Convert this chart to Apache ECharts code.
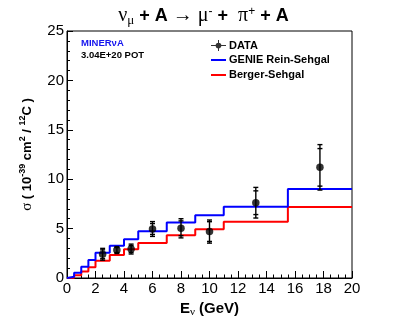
<!DOCTYPE html>
<html>
<head>
<meta charset="utf-8">
<script src="https://cdn.jsdelivr.net/npm/echarts@6/dist/echarts.min.js"></script>
<style>html,body{margin:0;padding:0;background:#fff;}#c{width:407px;height:328px;}</style>
</head>
<body>
<div id="c"></div>
<script>
// ---- data ----
const binEdges = [0, 0.5, 1, 1.5, 2, 3, 4, 5, 7, 9, 11, 15.5, 20];
const genieReinSehgal = [0.13, 0.54, 1.15, 1.82, 2.56, 3.27, 3.91, 4.72, 5.63, 6.34, 7.22, 9.0];
const bergerSehgal = [0.03, 0.28, 0.65, 1.08, 1.75, 2.33, 2.90, 3.55, 4.32, 4.93, 5.70, 7.19];
const dataEnergy = [2.5, 3.5, 4.5, 6, 8, 10, 13.25, 17.75];
const dataXsec = [2.40, 2.83, 2.93, 4.96, 5.03, 4.70, 7.62, 11.2];
const statErr = [0.45, 0.25, 0.35, 0.55, 0.75, 1.0, 1.2, 1.9];
const totalErr = [0.60, 0.35, 0.50, 0.75, 0.97, 1.17, 1.55, 2.3];
const xTickLabels = ['0','2','4','6','8','10','12','14','16','18','20'];
const yTickLabels = ['0','5','10','15','20','25'];

function histPoints(vals) {
  const pts = [[binEdges[0], 0]];
  for (let i = 0; i < vals.length; i++) pts.push([binEdges[i], vals[i]]);
  pts.push([binEdges[binEdges.length - 1], vals[vals.length - 1]]);
  return pts;
}

const chart = echarts.init(document.getElementById('c'), null, {renderer: 'canvas'});
const F = '"Liberation Sans", Arial, Helvetica, sans-serif';
const G = '"Liberation Serif", "Times New Roman", serif';
const lineIcon = 'path://M0,0H0.01V0.01H0Z M0,5H15V7H0Z M0,12H0.01V12.01H0Z';

const dataDots = dataEnergy.map((e, i) => [e, dataXsec[i]]);
const errItems = dataEnergy.map((e, i) => [e, dataXsec[i], statErr[i], totalErr[i]]);

chart.setOption({
  animation: false,
  backgroundColor: '#fff',
  title: {
    left: 'center', top: 0,
    text: '{g|ν}{sub|μ}{b| + A }{g|→}{g| μ}{sup|-}{b| + }{g| π}{sup|+}{b| + A}',
    textStyle: {
      rich: {
        g: {fontFamily: G, fontSize: 20, fontWeight: 'normal', color: '#000'},
        b: {fontFamily: F, fontSize: 18, fontWeight: 'bold', color: '#000'},
        sub: {fontFamily: G, fontSize: 13, fontWeight: 'normal', color: '#000', padding: [9, 0, 0, 0]},
        sup: {fontFamily: F, fontSize: 12, fontWeight: 'normal', color: '#000', padding: [0, 0, 9, 0]}
      }
    }
  },
  grid: {left: 67, right: 55, top: 31, bottom: 50, show: true, borderColor: '#000', borderWidth: 1, backgroundColor: 'transparent'},
  legend: {
    orient: 'vertical', left: 206, top: 35, itemWidth: 15, itemHeight: 12, itemGap: 3,
    selectedMode: false,
    textStyle: {fontFamily: F, fontSize: 11, fontWeight: 'bold', color: '#000', padding: [0, 0, 0, -2]},
    data: [
      {name: 'DATA', icon: 'path://M0,7.3H18V8.7H0Z M8.4,1.5H9.6V14.5H8.4Z M9,4.6A3.4,3.4 0 1 1 8.99,4.6Z', itemStyle: {color: '#000'}},
      {name: 'GENIE Rein-Sehgal', icon: lineIcon, itemStyle: {color: '#0000ff'}},
      {name: 'Berger-Sehgal', icon: lineIcon, itemStyle: {color: '#ff0000'}}
    ]
  },
  graphic: [
    {type: 'text', left: 81, top: 38, style: {text: 'MINERνA', fill: '#1515ee', font: 'bold 9.5px ' + F}},
    {type: 'text', left: 81, top: 50, style: {text: '3.04E+20 POT', fill: '#000', font: 'bold 9.5px ' + F}}
  ],
  xAxis: {
    type: 'value', min: 0, max: 20, interval: 2,
    name: '{b|E}{sub|ν}{b| (GeV)}', nameLocation: 'middle', nameGap: 20,
    nameTextStyle: {
      rich: {
        b: {fontFamily: F, fontSize: 15, fontWeight: 'bold', color: '#000'},
        sub: {fontFamily: G, fontSize: 11, color: '#000', padding: [8, 0, 0, 0]}
      }
    },
    axisLine: {show: true, onZero: false, lineStyle: {color: '#000', width: 1}},
    axisTick: {show: true, inside: true, length: 7, lineStyle: {color: '#000'}},
    minorTick: {show: true, splitNumber: 4, length: 3.5, lineStyle: {color: '#000'}},
    splitLine: {show: false},
    axisLabel: {
      margin: 3, color: '#000', fontFamily: F, fontSize: 15,
      formatter: v => { const s = String(v); return xTickLabels.includes(s) ? s : ''; }
    }
  },
  yAxis: {
    type: 'value', min: 0, max: 25, interval: 5,
    name: '{g|σ}{b| ( 10}{sup|-39}{b| cm}{sup|2}{b| / }{sup|12}{b|C )}',
    nameLocation: 'middle', nameGap: 31, nameRotate: 90,
    nameTextStyle: {
      rich: {
        g: {fontFamily: G, fontSize: 15, color: '#000'},
        b: {fontFamily: F, fontSize: 13, fontWeight: 'bold', color: '#000'},
        sup: {fontFamily: F, fontSize: 9, fontWeight: 'bold', color: '#000', padding: [0, 0, 9, 0]}
      }
    },
    axisLine: {show: true, onZero: false, lineStyle: {color: '#000', width: 1}},
    axisTick: {show: true, inside: true, length: 6, lineStyle: {color: '#000'}},
    minorTick: {show: true, splitNumber: 5, length: 3, lineStyle: {color: '#000'}},
    splitLine: {show: false},
    axisLabel: {
      margin: 3, color: '#000', fontFamily: F, fontSize: 15,
      formatter: v => { const s = String(v); return yTickLabels.includes(s) ? s : ''; }
    }
  },
  series: [
    {
      name: 'Berger-Sehgal', type: 'line', step: 'end', symbol: 'none',
      data: histPoints(bergerSehgal), color: '#ff0000',
      lineStyle: {color: '#ff0000', width: 2}, z: 2
    },
    {
      name: 'GENIE Rein-Sehgal', type: 'line', step: 'end', symbol: 'none',
      data: histPoints(genieReinSehgal), color: '#0000ff',
      lineStyle: {color: '#0000ff', width: 2}, z: 3
    },
    {
      name: 'DATA errors', type: 'custom', z: 4,
      data: errItems,
      renderItem: function (params, api) {
        const x = api.value(0), y = api.value(1), s = api.value(2), t = api.value(3);
        const top = api.coord([x, y + t]);
        const bot = api.coord([x, y - t]);
        const sTop = api.coord([x, y + s]);
        const sBot = api.coord([x, y - s]);
        const w = 2.5;
        const st = {stroke: '#000', lineWidth: 1.4};
        const cap = p => ({type: 'line', shape: {x1: p[0] - w, y1: p[1], x2: p[0] + w, y2: p[1]}, style: st});
        return {
          type: 'group',
          children: [
            {type: 'line', shape: {x1: top[0], y1: top[1], x2: bot[0], y2: bot[1]}, style: st},
            cap(top), cap(bot), cap(sTop), cap(sBot)
          ]
        };
      }
    },
    {
      name: 'DATA', type: 'scatter', symbol: 'circle', symbolSize: 7.5,
      data: dataDots, itemStyle: {color: '#000'}, z: 5
    }
  ]
});
</script>
</body>
</html>
